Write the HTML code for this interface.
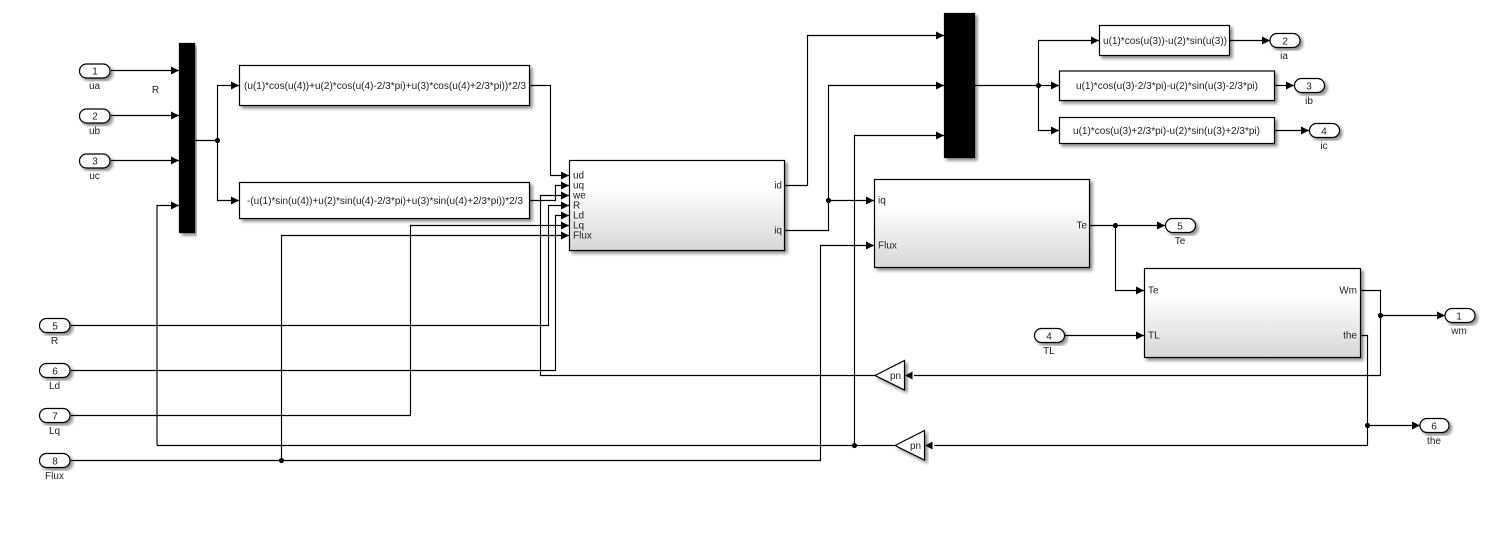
<!DOCTYPE html>
<html><head><meta charset="utf-8"><style>
html,body{margin:0;padding:0;background:#fff}
svg{display:block}
text{font-family:"Liberation Sans",Arial,sans-serif;font-size:10px;fill:#222}
.w{fill:none;stroke:#000;stroke-width:1.15}
.b{fill:#fff;stroke:#000;stroke-width:1.2;filter:url(#s)}
.g{fill:url(#gr);stroke:#000;stroke-width:1.2;filter:url(#s)}
.m{text-anchor:middle}
.e{text-anchor:end}
.ar{fill:#000;stroke:none}
</style></head><body>
<svg width="1500" height="537" viewBox="0 0 1500 537" xmlns="http://www.w3.org/2000/svg">
<defs>
<filter id="s" x="-10%" y="-20%" width="125%" height="145%"><feDropShadow dx="2.5" dy="2.5" stdDeviation="1.5" flood-color="#000" flood-opacity=".45"/></filter>
<linearGradient id="gr" x1="0" y1="0" x2="0" y2="1"><stop offset="0" stop-color="#fff"/><stop offset=".3" stop-color="#fff"/><stop offset="1" stop-color="#d6d6d6"/></linearGradient>
<marker id="a" markerUnits="userSpaceOnUse" markerWidth="9" markerHeight="10" refX="9" refY="5" orient="auto"><path d="M1 1L9 5L1 9z" class="ar"/></marker>
</defs>

<!-- blocks -->
<rect class="b" x="179.5" y="43.5" width="15" height="189" style="fill:#000"/>
<rect class="b" x="944.5" y="13.5" width="30" height="144" style="fill:#000"/>
<rect class="b" x="239.5" y="65.5" width="290" height="40"/>
<rect class="b" x="239.5" y="182.5" width="290" height="36"/>
<rect class="g" x="569.5" y="160.5" width="215" height="90"/>
<rect class="g" x="874.5" y="179.5" width="215" height="88"/>
<rect class="g" x="1144.5" y="268.5" width="216" height="89"/>
<rect class="b" x="1099.5" y="25.5" width="130" height="30"/>
<rect class="b" x="1059.5" y="71" width="215" height="29.5"/>
<rect class="b" x="1059.5" y="117.5" width="215" height="26"/>
<path class="b" d="M875 375.5L904.5 360.5V390z"/>
<path class="b" d="M895 445.5L924.5 430.5V460z"/>

<!-- ports -->
<g class="ports">
<rect class="b" x="79.5" y="64" width="30.500" height="14" rx="7"/>
<rect class="b" x="79.5" y="109" width="30.500" height="14" rx="7"/>
<rect class="b" x="79.5" y="154" width="30.500" height="14" rx="7"/>
<rect class="b" x="39.5" y="318.500" width="30.500" height="14" rx="7"/>
<rect class="b" x="39.5" y="363.500" width="30.500" height="14" rx="7"/>
<rect class="b" x="39.5" y="408.500" width="30.500" height="14" rx="7"/>
<rect class="b" x="39.5" y="453.500" width="30.500" height="14" rx="7"/>
<rect class="b" x="1034.5" y="328.500" width="30" height="14" rx="7"/>
<rect class="b" x="1270" y="33.500" width="30" height="14" rx="7"/>
<rect class="b" x="1294.5" y="78.500" width="30" height="14" rx="7"/>
<rect class="b" x="1309.500" y="123.500" width="30" height="14" rx="7"/>
<rect class="b" x="1165.500" y="218.500" width="30" height="14" rx="7"/>
<rect class="b" x="1445" y="308.500" width="30" height="14" rx="7"/>
<rect class="b" x="1420" y="418.500" width="29" height="14" rx="7"/>
</g>

<!-- wires -->
<g class="w">
<path marker-end="url(#a)" d="M111 70.500H179"/>
<path marker-end="url(#a)" d="M111 115.500H179"/>
<path marker-end="url(#a)" d="M111 160.500H179"/>
<path marker-end="url(#a)" d="M157 445.500V205.500H179"/>
<path d="M195 140.500H217.500"/>
<path marker-end="url(#a)" d="M217.500 140.500V85.500H239"/>
<path marker-end="url(#a)" d="M217.500 140.500V200.500H239"/>
<path marker-end="url(#a)" d="M530 85.500H550.500V175.500H569"/>
<path marker-end="url(#a)" d="M530 200.500H555.500V185.500H569"/>
<path marker-end="url(#a)" d="M875 375.500H540.500V195.500H569"/>
<path marker-end="url(#a)" d="M71 325.500H548.500V205.500H569"/>
<path marker-end="url(#a)" d="M71 370.500H555.500V215.500H569"/>
<path marker-end="url(#a)" d="M71 415.500H410.500V225.500H569"/>
<path marker-end="url(#a)" d="M281.500 460.500V235.500H569"/>
<path marker-end="url(#a)" d="M71 460.500H820.500V245.500H874"/>
<path d="M895 445.500H157"/>
<path marker-end="url(#a)" d="M854.500 445.500V135.500H944"/>
<path marker-end="url(#a)" d="M785 185.500H807.500V35.500H944"/>
<path marker-end="url(#a)" d="M785 230.500H828.500V85.500H944"/>
<path marker-end="url(#a)" d="M828.500 200.500H874"/>
<path d="M975 85.500H1038.500"/>
<path marker-end="url(#a)" d="M1038.500 85.500V40.500H1099"/>
<path marker-end="url(#a)" d="M1038.500 85.500H1059"/>
<path marker-end="url(#a)" d="M1038.500 85.500V130.500H1059"/>
<path marker-end="url(#a)" d="M1230 40.500H1270"/>
<path marker-end="url(#a)" d="M1275 85.500H1294"/>
<path marker-end="url(#a)" d="M1275 130.500H1309"/>
<path marker-end="url(#a)" d="M1090 225.500H1165"/>
<path marker-end="url(#a)" d="M1115.500 225.500V290.500H1144"/>
<path marker-end="url(#a)" d="M1065 335.500H1144"/>
<path d="M1361 290.500H1380.500V375.500H914"/>
<path marker-end="url(#a)" d="M1380.500 315.500H1445"/>
<path d="M1361 335.500H1367.500V445.500H934"/>
<path marker-end="url(#a)" d="M1367.500 425.500H1420"/>
</g>
<path class="ar" d="M912.500 371.500V379.500L905 375.500z"/>
<path class="ar" d="M932.500 441.500V449.500L925 445.500z"/>
<g fill="#000">
<circle cx="217.500" cy="140.500" r="2.600"/>
<circle cx="281.500" cy="460.500" r="2.600"/>
<circle cx="828.500" cy="200.500" r="2.600"/>
<circle cx="854.500" cy="445.500" r="2.600"/>
<circle cx="1038.500" cy="85.500" r="2.600"/>
<circle cx="1115.500" cy="225.500" r="2.600"/>
<circle cx="1380.500" cy="315.500" r="2.600"/>
<circle cx="1367.500" cy="425.500" r="2.600"/>
</g>

<!-- port numbers -->
<g class="m">
<text class="m" x="95" y="74.500">1</text><text class="m" x="95" y="119.500">2</text><text class="m" x="95" y="164.500">3</text>
<text class="m" x="55" y="329.500">5</text><text class="m" x="55" y="374.500">6</text><text class="m" x="55" y="419.500">7</text><text class="m" x="55" y="464.500">8</text>
<text class="m" x="1049" y="339.500">4</text><text class="m" x="1285" y="44.500">2</text><text class="m" x="1309" y="89.500">3</text><text class="m" x="1324" y="134.500">4</text>
<text class="m" x="1180" y="229.500">5</text><text class="m" x="1459" y="319.500">1</text><text class="m" x="1434" y="429.500">6</text>
</g>
<!-- port labels -->
<g>
<text class="m" x="94.500" y="89">ua</text><text class="m" x="94.500" y="134">ub</text><text class="m" x="94.500" y="179">uc</text>
<text class="m" x="155.500" y="93">R</text>
<text class="m" x="54.500" y="344">R</text><text class="m" x="54.500" y="389">Ld</text><text class="m" x="54.500" y="434">Lq</text><text class="m" x="54.500" y="479">Flux</text>
<text class="m" x="1049" y="354">TL</text><text class="m" x="1284" y="59">ia</text><text class="m" x="1309" y="104">ib</text><text class="m" x="1324" y="149">ic</text>
<text class="m" x="1180" y="244">Te</text><text class="m" x="1459" y="334">wm</text><text class="m" x="1434" y="444">the</text>
</g>
<!-- block text -->
<text x="244" y="89" textLength="282" lengthAdjust="spacingAndGlyphs">(u(1)*cos(u(4))+u(2)*cos(u(4)-2/3*pi)+u(3)*cos(u(4)+2/3*pi))*2/3</text>
<text x="247" y="204" textLength="276" lengthAdjust="spacingAndGlyphs">-(u(1)*sin(u(4))+u(2)*sin(u(4)-2/3*pi)+u(3)*sin(u(4)+2/3*pi))*2/3</text>
<text x="1103" y="44" textLength="124" lengthAdjust="spacingAndGlyphs">u(1)*cos(u(3))-u(2)*sin(u(3))</text>
<text x="1076" y="89" textLength="182" lengthAdjust="spacingAndGlyphs">u(1)*cos(u(3)-2/3*pi)-u(2)*sin(u(3)-2/3*pi)</text>
<text x="1073" y="134" textLength="187" lengthAdjust="spacingAndGlyphs">u(1)*cos(u(3)+2/3*pi)-u(2)*sin(u(3)+2/3*pi)</text>
<g>
<text x="573" y="178.500">ud</text><text x="573" y="188.500">uq</text><text x="573" y="198.500">we</text><text x="573" y="208.500">R</text><text x="573" y="218.500">Ld</text><text x="573" y="228.500">Lq</text><text x="573" y="238.500">Flux</text>
<text class="e" x="782" y="188.500">id</text><text class="e" x="782" y="233.500">iq</text>
<text x="878" y="203.500">iq</text><text x="878" y="248.500">Flux</text><text class="e" x="1087" y="228.500">Te</text>
<text x="1148" y="293.500">Te</text><text x="1148" y="338.500">TL</text><text class="e" x="1357" y="293.500">Wm</text><text class="e" x="1357" y="338.500">the</text>
<text class="m" x="895.500" y="379">pn</text><text class="m" x="915.500" y="449">pn</text>
</g>
</svg>
</body></html>
